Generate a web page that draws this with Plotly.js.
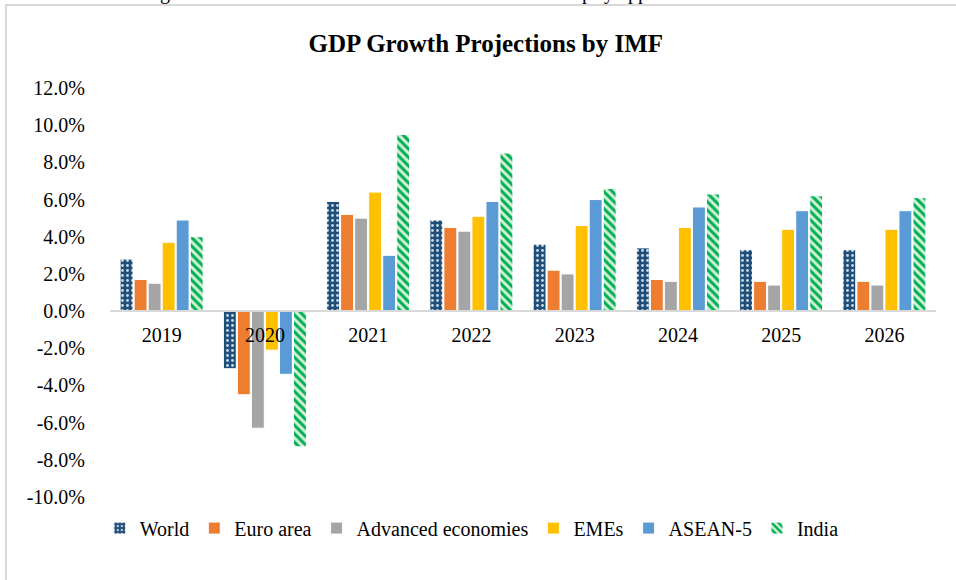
<!DOCTYPE html>
<html>
<head>
<meta charset="utf-8">
<script src="https://cdn.plot.ly/plotly-3.0.1.min.js"></script>
<style>
  html, body { margin: 0; padding: 0; background: #ffffff; overflow: hidden; }
  #frame { position: absolute; left: 5px; top: 4px; width: 1000px; height: 700px;
           border-left: 2px solid #d9d9d9; border-top: 2px solid #d9d9d9; }
  #cut { position: absolute; left: 0; top: -19px; width: 956px; height: 30px;
         font-family: "Liberation Serif", "Times New Roman", serif; font-size: 20px; color: #000; }
  #cut span { position: absolute; top: 0; }
  #chart { position: absolute; left: 0; top: 0; width: 956px; height: 580px; }
</style>
</head>
<body>
<div id="frame"></div>
<div id="cut"><span style="left:160px">g</span><span style="left:582px">p</span><span style="left:604px">y</span><span style="left:628px">pp</span></div>
<div id="chart"></div>
<script>
const years = ["2019", "2020", "2021", "2022", "2023", "2024", "2025", "2026"];
const world = [2.8, -3.1, 5.9, 4.9, 3.6, 3.4, 3.3, 3.3];
const euroArea = [1.7, -4.5, 5.2, 4.5, 2.2, 1.7, 1.6, 1.6];
const advanced = [1.5, -6.3, 5.0, 4.3, 2.0, 1.6, 1.4, 1.4];
const emes = [3.7, -2.1, 6.4, 5.1, 4.6, 4.5, 4.4, 4.4];
const asean5 = [4.9, -3.4, 3.0, 5.9, 6.0, 5.6, 5.4, 5.4];
const india = [4.0, -7.3, 9.5, 8.5, 6.6, 6.3, 6.2, 6.1];
const yTicks = [-10, -8, -6, -4, -2, 0, 2, 4, 6, 8, 10, 12];
const yTickLabels = yTicks.map(v => v.toFixed(1) + '%');

const serif = '"Liberation Serif", "Times New Roman", serif';
const edge = { color: '#ffffff', width: 1 };

function bar(name, y, marker) {
  return { type: 'bar', name: name, x: years, y: y, marker: marker, hoverinfo: 'skip' };
}

const traces = [
  bar('World', world, { color: '#1F4E79', line: edge,
      pattern: { shape: '.', bgcolor: '#1F4E79', fgcolor: '#c9d9ea', size: 5, solidity: 0.25, fillmode: 'replace' } }),
  bar('Euro area', euroArea, { color: '#ED7D31', line: edge }),
  bar('Advanced economies', advanced, { color: '#A5A5A5', line: edge }),
  bar('EMEs', emes, { color: '#FFC000', line: edge }),
  bar('ASEAN-5', asean5, { color: '#5B9BD5', line: edge }),
  bar('India', india, { color: '#00B050', line: edge,
      pattern: { shape: '\\', bgcolor: '#d3efdb', fgcolor: '#00B050', size: 6, solidity: 0.5, fillmode: 'replace' } })
];

const layout = {
  width: 956, height: 580,
  margin: { l: 110, r: 20, t: 88, b: 83 },
  paper_bgcolor: 'rgba(0,0,0,0)',
  plot_bgcolor: 'rgba(0,0,0,0)',
  font: { family: serif, size: 20, color: '#000000' },
  title: { text: '<b>GDP Growth Projections by IMF</b>', font: { family: serif, size: 25, color: '#000' },
           x: 0.455, xanchor: 'center', xref: 'paper', y: 0.925, yanchor: 'middle', yref: 'container' },
  barmode: 'group',
  bargap: 0.185,
  bargroupgap: 0.08,
  showlegend: true,
  legend: { orientation: 'h', x: 0.438, xanchor: 'center', y: -0.076, yanchor: 'middle',
            font: { family: serif, size: 20, color: '#000' }, itemwidth: 30, traceorder: 'normal' },
  xaxis: {
    type: 'category', anchor: 'free', position: 10 / 22,
    showline: true, linecolor: '#d9d9d9', linewidth: 2,
    ticks: 'outside', ticklen: 6, tickcolor: 'rgba(0,0,0,0)', showgrid: false, zeroline: false,
    tickfont: { family: serif, size: 20, color: '#000' }, fixedrange: true
  },
  yaxis: {
    range: [-10, 12], tickmode: 'array', tickvals: yTicks, ticktext: yTickLabels,
    showgrid: false, showline: false, zeroline: false,
    ticks: 'outside', ticklen: 20, tickcolor: 'rgba(0,0,0,0)',
    tickfont: { family: serif, size: 20, color: '#000' }, fixedrange: true
  }
};

Plotly.newPlot('chart', traces, layout, { displayModeBar: false, staticPlot: true });
</script>
</body>
</html>
